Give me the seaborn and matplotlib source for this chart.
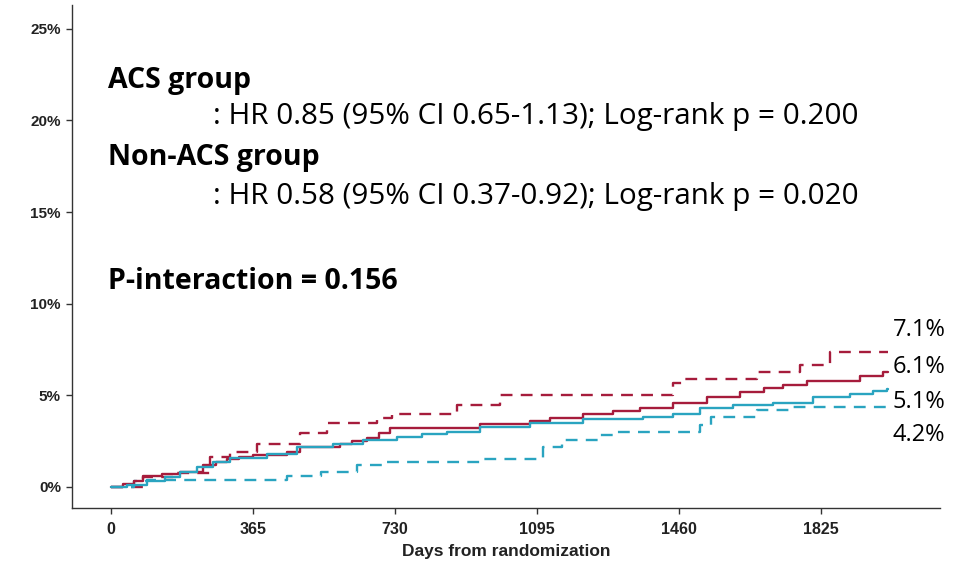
import numpy as np
import pandas as pd
import matplotlib
matplotlib.use("Agg")
import matplotlib.pyplot as plt
import seaborn as sns

# ---- data ----
red_solid_days = [0, 30, 60, 82, 130, 177, 236, 270, 298, 330, 365, 452, 486, 589, 620, 658, 690, 717,
                  948, 1077, 1128, 1213, 1290, 1360, 1444, 1532, 1617, 1680, 1727, 1789, 1925, 1984, 1997]
red_solid_pct = [0.0, 0.15, 0.35, 0.6, 0.7, 0.8, 1.2, 1.35, 1.5, 1.65, 1.75, 1.9, 2.2, 2.35, 2.5, 2.7, 2.95, 3.2,
                 3.45, 3.6, 3.75, 4.0, 4.15, 4.3, 4.6, 4.9, 5.2, 5.4, 5.55, 5.8, 6.05, 6.3, 6.3]

blue_solid_days = [0, 40, 93, 140, 177, 220, 262, 306, 401, 478, 571, 648, 735, 800, 864, 948, 1077,
                   1213, 1367, 1444, 1514, 1600, 1701, 1804, 1899, 1960, 1994, 1997]
blue_solid_pct = [0.0, 0.1, 0.35, 0.55, 0.8, 1.1, 1.35, 1.6, 1.8, 2.2, 2.35, 2.55, 2.75, 2.9, 3.0, 3.3, 3.5,
                  3.7, 3.8, 4.0, 4.3, 4.45, 4.6, 4.9, 5.1, 5.25, 5.35, 5.35]

red_dash_days = [0, 82, 159, 254, 306, 375, 486, 555, 684, 722, 889, 1000, 1444, 1470, 1660, 1771, 1848, 1997]
red_dash_pct = [0.0, 0.55, 0.75, 1.65, 1.9, 2.35, 2.95, 3.5, 3.75, 4.0, 4.5, 5.0, 5.7, 5.9, 6.3, 6.65, 7.35, 7.35]

blue_dash_days = [0, 60, 93, 452, 540, 633, 700, 948, 1110, 1160, 1253, 1290, 1514, 1542, 1660, 1745, 1997]
blue_dash_pct = [0.0, 0.3, 0.4, 0.6, 0.8, 1.2, 1.35, 1.5, 2.2, 2.55, 2.85, 3.0, 3.4, 3.8, 4.2, 4.35, 4.35]

end_labels = ["7.1%", "6.1%", "5.1%", "4.2%"]
end_label_y = [8.58, 6.56, 4.64, 2.84]

x_ticks = [0, 365, 730, 1095, 1460, 1825]
y_ticks = [0, 5, 10, 15, 20, 25]
y_tick_labels = ["0%", "5%", "10%", "15%", "20%", "25%"]

RED = "#A61C3C"
BLUE = "#2AA4C0"

sns.set_style("ticks")
plt.rcParams["font.family"] = ["Liberation Sans", "DejaVu Sans"]

fig = plt.figure(figsize=(9.61, 5.62), dpi=100)
ax = fig.add_axes([0.075, 0.096, 0.903, 0.895])

series = [
    (red_dash_days, red_dash_pct, RED, (0, (5, 3.5))),
    (blue_dash_days, blue_dash_pct, BLUE, (0, (5, 3.5))),
    (red_solid_days, red_solid_pct, RED, "-"),
    (blue_solid_days, blue_solid_pct, BLUE, "-"),
]
for d, p, c, ls in series:
    df = pd.DataFrame({"days": d, "pct": p})
    sns.lineplot(data=df, x="days", y="pct", ax=ax, color=c, linewidth=1.7,
                 linestyle=ls, drawstyle="steps-post", estimator=None, sort=False)

ax.set_xlim(-100, 2131)
ax.set_ylim(-1.15, 26.3)
ax.set_xticks(x_ticks)
ax.set_xticklabels([str(t) for t in x_ticks], fontsize=11.5, fontweight="bold", color="#222222")
ax.set_yticks(y_ticks)
ax.set_yticklabels(y_tick_labels, fontsize=11, fontweight="bold", color="#222222")
ax.set_xlabel("Days from randomization", fontsize=12.5, fontweight="bold", color="#222222", labelpad=5)
ax.set_ylabel("")
ax.tick_params(axis="x", direction="out", length=4, width=1, color="#333333", pad=6)
ax.tick_params(axis="y", direction="out", length=4, width=1, color="#333333", pad=4)
for s in ["top", "right"]:
    ax.spines[s].set_visible(False)
for s in ["left", "bottom"]:
    ax.spines[s].set_color("#333333")
    ax.spines[s].set_linewidth(1)

tfont = ["Open Sans", "DejaVu Sans"]
fs = 21.3
fsb = 20.5
ax.text(-8, 22.2, "ACS group", fontsize=fsb, fontweight="bold", family=tfont, ha="left", va="center",
        color="black")
ax.text(262, 20.2, ": HR 0.85 (95% CI 0.65-1.13); Log-rank p = 0.200", fontsize=fs, family=tfont,
        ha="left", va="center", color="black")
ax.text(-8, 18.0, "Non-ACS group", fontsize=fsb, fontweight="bold", family=tfont, ha="left", va="center",
        color="black")
ax.text(262, 15.85, ": HR 0.58 (95% CI 0.37-0.92); Log-rank p = 0.020", fontsize=fs, family=tfont,
        ha="left", va="center", color="black")
ax.text(-8, 11.2, "P-interaction = 0.156", fontsize=fsb, fontweight="bold", family=tfont, ha="left",
        va="center", color="black")

for lab, yy in zip(end_labels, end_label_y):
    ax.text(2010, yy, lab, fontsize=17, family=tfont, ha="left", va="center", color="black")

fig.savefig("out.png", dpi=100)
